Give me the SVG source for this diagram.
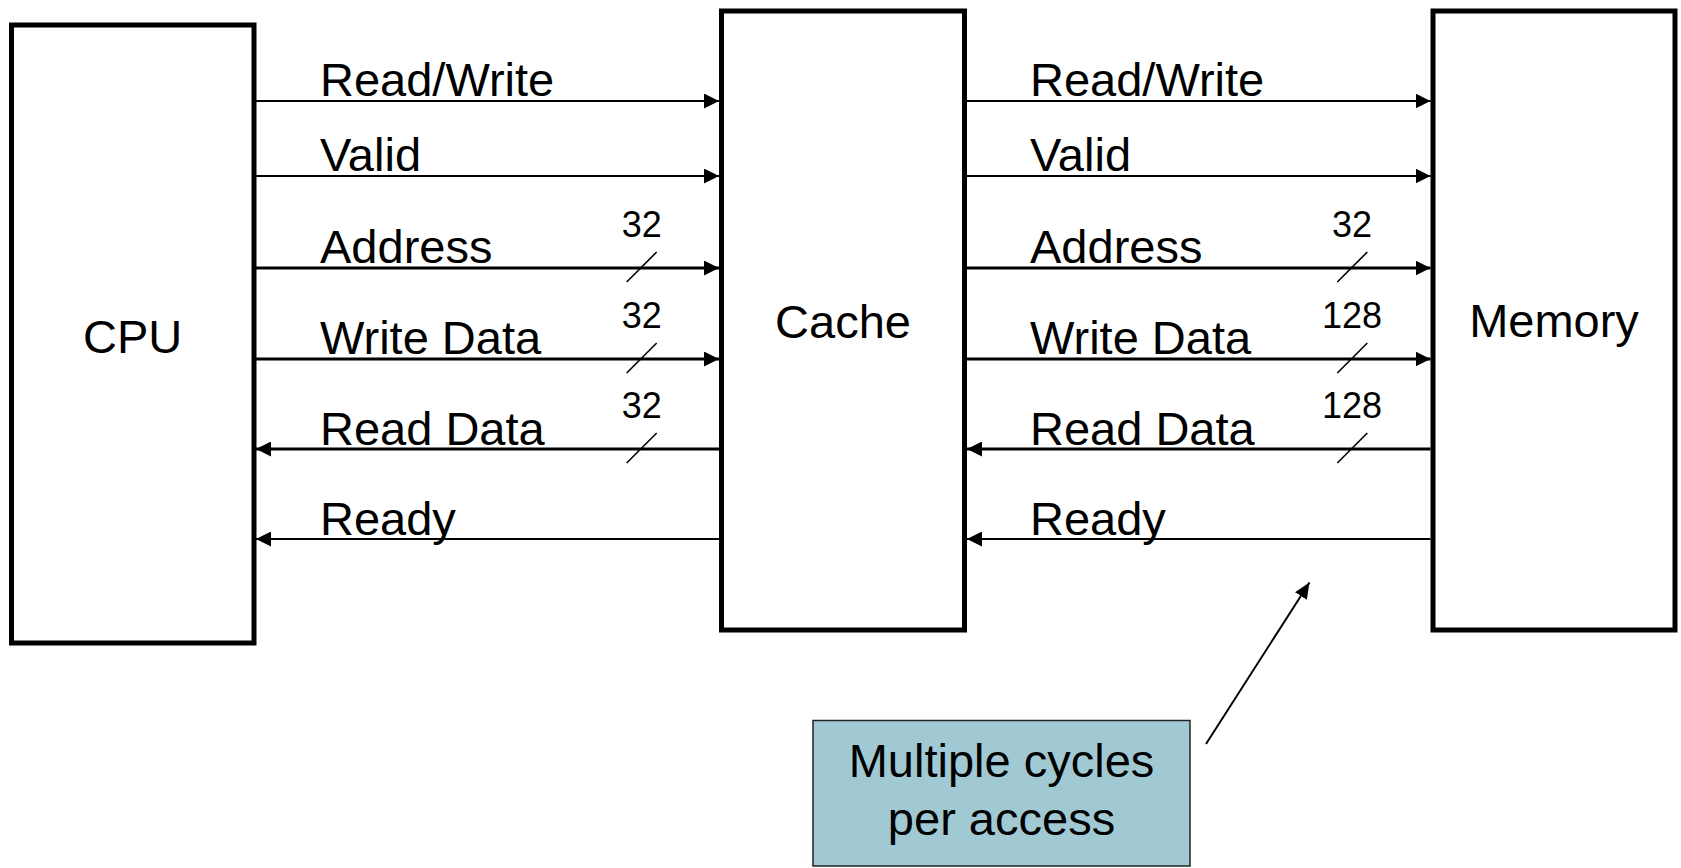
<svg xmlns="http://www.w3.org/2000/svg" width="1681" height="868" viewBox="0 0 1681 868">
<style>
  .box { fill: #ffffff; stroke: #000000; stroke-width: 5; }
  .lbl { font-family: "Liberation Sans", Arial, sans-serif; font-size: 47px; fill: #000000; }
  .num { font-family: "Liberation Sans", Arial, sans-serif; font-size: 36px; fill: #000000; text-anchor: middle; }
  .mid { text-anchor: middle; }
  .w2 { stroke: #000000; stroke-width: 2; fill: none; }
  .w3 { stroke: #000000; stroke-width: 3; fill: none; }
  .slash { stroke: #000000; stroke-width: 1.6; }
</style>
<defs>
  <marker id="ah" viewBox="0 0 15 15" refX="15" refY="7.5" markerWidth="15" markerHeight="15" markerUnits="userSpaceOnUse" orient="auto">
    <path d="M0,0 L15,7.5 L0,15 Z" fill="#000000"/>
  </marker>
  <marker id="ah2" viewBox="0 0 16 14" refX="16" refY="7" markerWidth="16" markerHeight="14" markerUnits="userSpaceOnUse" orient="auto">
    <path d="M0,0 L16,7 L0,14 Z" fill="#000000"/>
  </marker>
</defs>
<rect width="1681" height="868" fill="#ffffff"/>

<g id="cpu">
  <rect class="box" x="11.5" y="25" width="242.5" height="618"/>
  <text class="lbl mid" x="132.7" y="353">CPU</text>
</g>
<g id="cache">
  <rect class="box" x="721.5" y="11" width="243" height="619"/>
  <text class="lbl mid" x="843" y="338">Cache</text>
</g>
<g id="memory">
  <rect class="box" x="1433" y="11" width="242" height="619"/>
  <text class="lbl mid" x="1554" y="337">Memory</text>
</g>

<g id="connectors">
  <!-- CPU <-> Cache -->
  <line class="w2" x1="256" y1="101" x2="719" y2="101" marker-end="url(#ah)"/>
  <line class="w2" x1="256" y1="176" x2="719" y2="176" marker-end="url(#ah)"/>
  <line class="w3" x1="256" y1="268" x2="719" y2="268" marker-end="url(#ah)"/>
  <line class="w3" x1="256" y1="359" x2="719" y2="359" marker-end="url(#ah)"/>
  <line class="w3" x1="719" y1="449" x2="256" y2="449" marker-end="url(#ah)"/>
  <line class="w2" x1="719" y1="539" x2="256" y2="539" marker-end="url(#ah)"/>
  <line class="slash" x1="626.7" y1="282" x2="656.7" y2="252"/>
  <line class="slash" x1="626.7" y1="373" x2="656.7" y2="343"/>
  <line class="slash" x1="626.7" y1="463" x2="656.7" y2="433"/>
  <!-- Cache <-> Memory -->
  <line class="w2" x1="967" y1="101" x2="1430.5" y2="101" marker-end="url(#ah)"/>
  <line class="w2" x1="967" y1="176" x2="1430.5" y2="176" marker-end="url(#ah)"/>
  <line class="w3" x1="967" y1="268" x2="1430.5" y2="268" marker-end="url(#ah)"/>
  <line class="w3" x1="967" y1="359" x2="1430.5" y2="359" marker-end="url(#ah)"/>
  <line class="w3" x1="1430.5" y1="449" x2="967" y2="449" marker-end="url(#ah)"/>
  <line class="w2" x1="1430.5" y1="539" x2="967" y2="539" marker-end="url(#ah)"/>
  <line class="slash" x1="1337.3" y1="282" x2="1367.3" y2="252"/>
  <line class="slash" x1="1337.3" y1="373" x2="1367.3" y2="343"/>
  <line class="slash" x1="1337.3" y1="463" x2="1367.3" y2="433"/>
  <!-- annotation arrow -->
  <line class="w2" x1="1206" y1="744" x2="1309.5" y2="582.5" marker-end="url(#ah2)"/>
</g>

<g id="labels-left">
  <text class="lbl" x="320" y="96">Read/Write</text>
  <text class="lbl" x="320" y="171">Valid</text>
  <text class="lbl" x="320" y="263">Address</text>
  <text class="lbl" x="320" y="354">Write Data</text>
  <text class="lbl" x="320" y="445">Read Data</text>
  <text class="lbl" x="320" y="535">Ready</text>
  <text class="num" x="641.7" y="236.5">32</text>
  <text class="num" x="641.7" y="327.5">32</text>
  <text class="num" x="641.7" y="417.5">32</text>
</g>
<g id="labels-right">
  <text class="lbl" x="1030" y="96">Read/Write</text>
  <text class="lbl" x="1030" y="171">Valid</text>
  <text class="lbl" x="1030" y="263">Address</text>
  <text class="lbl" x="1030" y="354">Write Data</text>
  <text class="lbl" x="1030" y="445">Read Data</text>
  <text class="lbl" x="1030" y="535">Ready</text>
  <text class="num" x="1352" y="236.5">32</text>
  <text class="num" x="1352" y="327.5">128</text>
  <text class="num" x="1352" y="417.5">128</text>
</g>

<g id="note">
  <rect x="813" y="720.5" width="377" height="145.5" fill="#A1C9D3" stroke="#222222" stroke-width="1.5"/>
  <text class="lbl mid" x="1001.5" y="777">Multiple cycles</text>
  <text class="lbl mid" x="1001.5" y="835">per access</text>
</g>
</svg>
